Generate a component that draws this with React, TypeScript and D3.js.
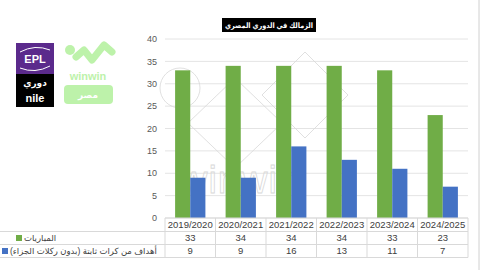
import React from "react";
import * as d3 from "d3";

const seasons = ["2019/2020", "2020/2021", "2021/2022", "2022/2023", "2023/2024", "2024/2025"];
const matches = [33, 34, 34, 34, 33, 23];
const setPieceGoals = [9, 9, 16, 13, 11, 7];
const seriesNames = ["المباريات", "أهداف من كرات ثابتة (بدون  ركلات الجزاء)"];
const yTicks = [0, 5, 10, 15, 20, 25, 30, 35, 40];
const title = "الزمالك في الدوري المصري";

const GREEN = "#70AD47";
const BLUE = "#4472C4";
const FONT = "'Liberation Sans', 'DejaVu Sans', Arial, sans-serif";

export default function App() {
  const W = 480, H = 270;
  const left = 165, right = 468, top = 39, bottom = 218;
  const x = d3.scaleBand<string>().domain(seasons).range([left, right]).paddingInner(0.4).paddingOuter(0.2);
  const xCell = d3.scaleBand<string>().domain(seasons).range([left, right]);
  const y = d3.scaleLinear().domain([0, 40]).range([bottom, top]);
  const bw = x.bandwidth() / 2;
  const rowY = [218, 231.5, 244.5, 257.5];
  const series = [matches, setPieceGoals];
  const colors = [GREEN, BLUE];

  return (
    <svg width={W} height={H} style={{ position: "absolute", left: 0, top: 0, background: "#fff" }} fontFamily={FONT}>
      <rect width={W} height={H} fill="#fff" />
      {/* gridlines */}
      {yTicks.map((t) => (
        <line key={t} x1={left} x2={right} y1={y(t)} y2={y(t)} stroke="#E4E4E4" strokeWidth={1} />
      ))}
      {/* watermark */}
      <g fill="none" stroke="#D8D8D8" strokeWidth={0.8}>
        <circle cx={180} cy={88} r={20} />
        <path d="M188,123 L235,78 L282,123 L235,168 Z" />
        <path d="M262,95 L305,52 L348,95 L305,138 Z" />
        <text x={240} y={193} fontSize={38} textAnchor="middle" fontFamily={FONT} letterSpacing={1}>winwin</text>
      </g>
      {/* y tick labels */}
      {yTicks.map((t) => (
        <text key={t} x={157} y={y(t)} dy="0.35em" textAnchor="end" fontSize={9} fill="#595959">{t}</text>
      ))}
      {/* bars */}
      {seasons.map((s, i) => (
        <g key={s}>
          {series.map((vals, k) => (
            <rect key={k} x={(x(s) as number) + k * bw} y={y(vals[i])} width={bw} height={y(0) - y(vals[i])} fill={colors[k]} />
          ))}
        </g>
      ))}
      {/* data table */}
      <g stroke="#D9D9D9" strokeWidth={1}>
        <line x1={left} x2={right} y1={rowY[0]} y2={rowY[0]} />
        {rowY.slice(1).map((ry, i) => (
          <line key={i} x1={0} x2={right} y1={ry} y2={ry} />
        ))}
        {seasons.map((s) => (
          <line key={s} x1={xCell(s) as number} x2={xCell(s) as number} y1={rowY[0]} y2={rowY[3]} />
        ))}
        <line x1={right} x2={right} y1={rowY[0]} y2={rowY[3]} />
      </g>
      {seasons.map((s, i) => (
        <g key={s} fontSize={9.5} fill="#404040" textAnchor="middle">
          <text x={(xCell(s) as number) + xCell.bandwidth() / 2} y={(rowY[0] + rowY[1]) / 2} dy="0.36em">{s}</text>
          <text x={(xCell(s) as number) + xCell.bandwidth() / 2} y={(rowY[1] + rowY[2]) / 2} dy="0.36em">{matches[i]}</text>
          <text x={(xCell(s) as number) + xCell.bandwidth() / 2} y={(rowY[2] + rowY[3]) / 2} dy="0.36em">{setPieceGoals[i]}</text>
        </g>
      ))}
      {/* row labels */}
      {seriesNames.map((n, k) => {
        const cy = (rowY[k + 1] + rowY[k + 2]) / 2;
        const sx = k === 0 ? 16 : 2;
        return (
          <g key={n}>
            <rect x={sx} y={cy - 3} width={6} height={6} fill={colors[k]} />
            <text x={sx + 8} y={cy} dy="0.35em" fontSize={8.5} fill="#404040" direction="rtl" textAnchor="end" style={{ unicodeBidi: "embed" }}>{n}</text>
          </g>
        );
      })}
      {/* title */}
      <rect x={222} y={18} width={94} height={14} fill="#000" />
      <text x={269} y={25} dy="0.35em" textAnchor="middle" fontSize={7.5} fontWeight="bold" fill="#fff" direction="rtl" textLength={88} lengthAdjust="spacingAndGlyphs" style={{ unicodeBidi: "embed" }}>{title}</text>
      {/* right border */}
      <line x1={479} x2={479} y1={0} y2={H} stroke="#D0D0D0" />
      {/* EPL logo */}
      <g>
        <rect x={16} y={43} width={38} height={31} fill="#5B2A8C" />
        <path d="M20,52 Q35,44 50,50" fill="none" stroke="#fff" strokeWidth={1} />
        <path d="M20,68 Q35,74 50,66" fill="none" stroke="#fff" strokeWidth={1} />
        <text x={35} y={63} textAnchor="middle" fontSize={11} fontWeight="bold" fill="#fff">EPL</text>
        <rect x={16} y={74} width={38} height={33} fill="#000" />
        <text x={35} y={86} textAnchor="middle" fontSize={9} fontWeight="bold" fill="#fff">دوري</text>
        <text x={35} y={102} textAnchor="middle" fontSize={11} fontWeight="bold" fill="#fff">nile</text>
      </g>
      {/* winwin logo */}
      <g fill="#BDF2AA">
        <circle cx={70} cy={50} r={5} />
        <path d="M76,57 L84,50 L92,60 L104,45 L112,52" fill="none" stroke="#BDF2AA" strokeWidth={7} strokeLinejoin="round" strokeLinecap="round" />
        <text x={88} y={80} textAnchor="middle" fontSize={11} fontWeight="bold">winwin</text>
        <rect x={64} y={85} width={49} height={19} rx={4} />
        <text x={88} y={95} dy="0.35em" textAnchor="middle" fontSize={9} fontWeight="bold" fill="#fff">مصر</text>
      </g>
    </svg>
  );
}
